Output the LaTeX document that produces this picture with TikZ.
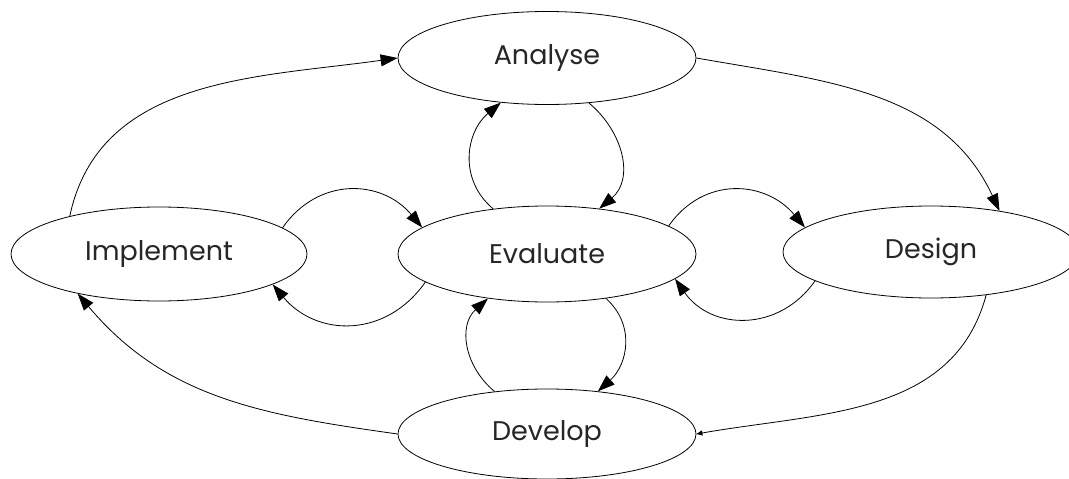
\documentclass[tikz,border=0pt]{standalone}
\usepackage{fontspec}
\setmainfont{Poppins}
\usetikzlibrary{arrows.meta,shapes.geometric}
\begin{document}
\begin{tikzpicture}[x=1pt,y=-1pt,
  phase/.style={ellipse,draw,line width=0.8pt,inner sep=0pt,minimum width=298pt,minimum height=93pt,font=\fontsize{27}{30}\selectfont,text=black!85},
  link/.style={line width=0.8pt,-{Triangle[length=17pt,width=12pt]}},
  smalllink/.style={line width=0.8pt,-{Triangle[length=6pt,width=5pt]}}]
\useasboundingbox (0,0) rectangle (1069,479);
\clip (0,0) rectangle (1069,479);
\node[phase] (an) at (547,58) {Analyse};
\node[phase,minimum height=96pt] (ev) at (547,254) {Evaluate};
\node[phase,minimum width=296pt,minimum height=94pt] (im) at (159,254) {Implement};
\node[phase,minimum width=296pt,minimum height=92pt] (de) at (931,252) {Design};
\node[phase,minimum height=90pt] (dv) at (547,434) {Develop};
% outer cycle
\draw[link] (im.157) to[out=78,in=188] (an.west);
\draw[link] (an.east) to[out=-10,in=115] (de.31);
\draw[smalllink] (de.-38) to[out=-105,in=10] (dv.east);
\draw[link] (dv.west) to[out=172,in=-50] (im.206);
% Analyse - Evaluate
\draw[link] (ev.140) to[out=140,in=220,looseness=1.1] (an.224);
\draw[link] (an.-47) to[out=-40,in=40,looseness=1.1] (ev.41);
% Evaluate - Develop
\draw[link] (dv.141) to[out=140,in=222,looseness=1.1] (ev.217);
\draw[link] (ev.-37) to[out=-42,in=42,looseness=1.1] (dv.40);
% Implement - Evaluate
\draw[link] (im.12) to[out=55,in=130,looseness=1.15] (ev.168);
\draw[link] (ev.193) to[out=-125,in=-50,looseness=1.15] (im.-15);
% Evaluate - Design
\draw[link] (ev.13) to[out=55,in=130,looseness=1.15] (de.169);
\draw[link] (de.194) to[out=-125,in=-55,looseness=1.15] (ev.-11);
\end{tikzpicture}
\end{document}
